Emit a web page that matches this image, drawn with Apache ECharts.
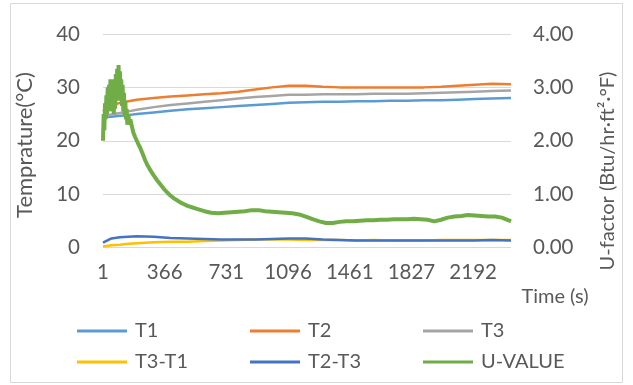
<!DOCTYPE html>
<html><head><meta charset="utf-8">
<script src="https://cdn.jsdelivr.net/npm/echarts@6/dist/echarts.min.js"></script>
<style>html,body{margin:0;padding:0;background:#fff}#c{width:633px;height:385px}</style>
</head><body><div id="c"></div>
<script>
// X tick labels (time in s) at every 365 samples
var tickLabels = ['1','366','731','1096','1461','1827','2192'];
var xMax = 2414;
// temperature sample times (index from first sample)
var tTemp = [0,50,100,150,200,300,400,500,600,700,800,900,1000,1100,1200,1300,1400,1500,1600,1700,1800,1900,2000,2100,2200,2300,2414];
var T1 = [24.4,24.5,24.7,24.8,25.0,25.3,25.6,25.9,26.1,26.3,26.5,26.7,26.9,27.1,27.2,27.3,27.3,27.4,27.4,27.5,27.5,27.6,27.6,27.7,27.8,27.9,28.0];
var T2 = [25.5,26.6,27.1,27.4,27.7,28.0,28.3,28.5,28.7,28.9,29.2,29.6,30.0,30.3,30.3,30.1,30.0,30.0,30.0,30.0,30.0,30.0,30.1,30.3,30.5,30.7,30.6];
var T3 = [24.6,24.9,25.2,25.5,25.8,26.3,26.7,27.0,27.3,27.6,27.9,28.2,28.4,28.6,28.6,28.7,28.7,28.7,28.8,28.8,28.8,28.9,29.0,29.1,29.2,29.3,29.4];
var T3mT1 = [0.2,0.4,0.5,0.7,0.8,1.0,1.1,1.1,1.2,1.3,1.4,1.5,1.5,1.5,1.4,1.4,1.4,1.3,1.4,1.3,1.3,1.3,1.4,1.4,1.4,1.4,1.4];
var T2mT3 = [0.9,1.7,1.9,2.0,2.1,2.0,1.8,1.7,1.6,1.5,1.5,1.5,1.6,1.7,1.7,1.5,1.4,1.3,1.3,1.3,1.3,1.3,1.3,1.3,1.3,1.4,1.3];
// U-value sample times and values
var tU = [0,4,8,12,16,20,24,28,32,36,40,44,48,52,56,60,64,68,72,76,80,84,88,92,96,100,104,108,112,116,120,124,128,132,136,140,144,150,156,162,170,180,190,200,210,220,235,250,265,280,300,320,340,360,380,400,420,440,460,480,500,530,560,600,640,680,720,760,800,840,880,920,960,1000,1040,1080,1120,1160,1200,1240,1280,1320,1360,1400,1440,1480,1520,1560,1600,1640,1680,1720,1760,1800,1840,1880,1920,1960,2000,2040,2080,2120,2160,2200,2240,2280,2320,2360,2400,2414];
var U = [2.00,2.50,2.20,2.70,2.40,2.85,2.50,3.00,2.55,3.05,2.60,3.15,2.65,3.10,2.55,3.05,2.50,3.15,2.60,3.25,2.75,3.35,2.85,3.42,2.90,3.30,2.75,3.15,2.65,3.05,2.55,2.90,2.45,2.75,2.40,2.60,2.30,2.50,2.30,2.40,2.28,2.15,2.07,2.00,1.93,1.87,1.75,1.63,1.53,1.45,1.35,1.26,1.18,1.10,1.03,0.97,0.92,0.88,0.84,0.81,0.78,0.75,0.72,0.68,0.65,0.64,0.65,0.66,0.67,0.68,0.70,0.70,0.68,0.67,0.66,0.65,0.64,0.62,0.58,0.53,0.49,0.46,0.46,0.48,0.49,0.49,0.50,0.51,0.51,0.52,0.52,0.53,0.53,0.53,0.54,0.53,0.52,0.49,0.52,0.56,0.58,0.59,0.61,0.60,0.59,0.58,0.58,0.56,0.51,0.49];

function pairs(t, v){ return t.map(function(x,i){ return [x, v[i]]; }); }
var FONT = 'Lato, "Open Sans", sans-serif';
var TXT = '#595959';
var names = ['T1','T2','T3','T3-T1','T2-T3','U-VALUE'];
var colors = ['#5B9BD5','#ED7D31','#A5A5A5','#FFC000','#4472C4','#70AD47'];
var legendPos = [[72,316],[245,316],[418,316],[72,347],[245,347],[418,347]];

var chart = echarts.init(document.getElementById('c'), null, {renderer:'canvas'});
chart.setOption({
  animation:false,
  backgroundColor:'#fff',
  color: colors,
  grid:{left:103, right:122, top:34, bottom:137.5, containLabel:false},
  legend: names.map(function(n,i){ return {
    data:[n], left:legendPos[i][0], top:legendPos[i][1], icon:'rect', itemWidth:50, itemHeight:3,
    textStyle:{color:TXT, fontFamily:FONT, fontSize:20, padding:[0,0,0,3]}
  };}),
  xAxis:{type:'value', min:0, max:xMax, interval:365,
    axisLine:{show:false}, axisTick:{show:false}, splitLine:{show:false},
    axisLabel:{color:TXT, fontFamily:FONT, fontSize:20.5, margin:14, showMaxLabel:false,
      formatter:function(v){ var k=v/365; return (k===Math.round(k) && tickLabels[k]) ? tickLabels[k] : ''; }}
  },
  yAxis:[
    {type:'value', min:0, max:40, interval:10,
      axisLine:{show:false}, axisTick:{show:false},
      splitLine:{lineStyle:{color:'#D9D9D9', width:1}},
      axisLabel:{color:TXT, fontFamily:FONT, fontSize:20.5, margin:23}},
    {type:'value', min:0, max:4, interval:1, position:'right',
      axisLine:{show:false}, axisTick:{show:false}, splitLine:{show:false},
      axisLabel:{color:TXT, fontFamily:FONT, fontSize:20.5, margin:22, formatter:function(v){return v.toFixed(2);}}}
  ],
  graphic:[
    {type:'rect', shape:{x:10.5,y:3.5,width:612,height:379}, style:{fill:'none', stroke:'#D9D9D9', lineWidth:1}, z:-1},
    {type:'text', x:25, y:145, rotation:Math.PI/2, style:{text:'Temprature(°C)', fill:TXT, font:'22px '+FONT, textAlign:'center', textVerticalAlign:'middle'}},
    {type:'text', x:608, y:171, rotation:Math.PI/2, style:{text:'U-factor (Btu/hr·ft²·°F)', fill:TXT, font:'20px '+FONT, textAlign:'center', textVerticalAlign:'middle'}},
    {type:'text', x:555, y:297, style:{text:'Time (s)', fill:TXT, font:'20px '+FONT, textAlign:'center', textVerticalAlign:'middle'}}
  ],
  series:[
    {name:'T1', type:'line', showSymbol:false, lineStyle:{width:2.5}, data:pairs(tTemp,T1)},
    {name:'T2', type:'line', showSymbol:false, lineStyle:{width:2.5}, data:pairs(tTemp,T2)},
    {name:'T3', type:'line', showSymbol:false, lineStyle:{width:2.5}, data:pairs(tTemp,T3)},
    {name:'T3-T1', type:'line', showSymbol:false, lineStyle:{width:2.5}, data:pairs(tTemp,T3mT1)},
    {name:'T2-T3', type:'line', showSymbol:false, lineStyle:{width:2.5}, data:pairs(tTemp,T2mT3)},
    {name:'U-VALUE', type:'line', yAxisIndex:1, showSymbol:false, lineStyle:{width:4}, data:pairs(tU,U)}
  ]
});
</script></body></html>
